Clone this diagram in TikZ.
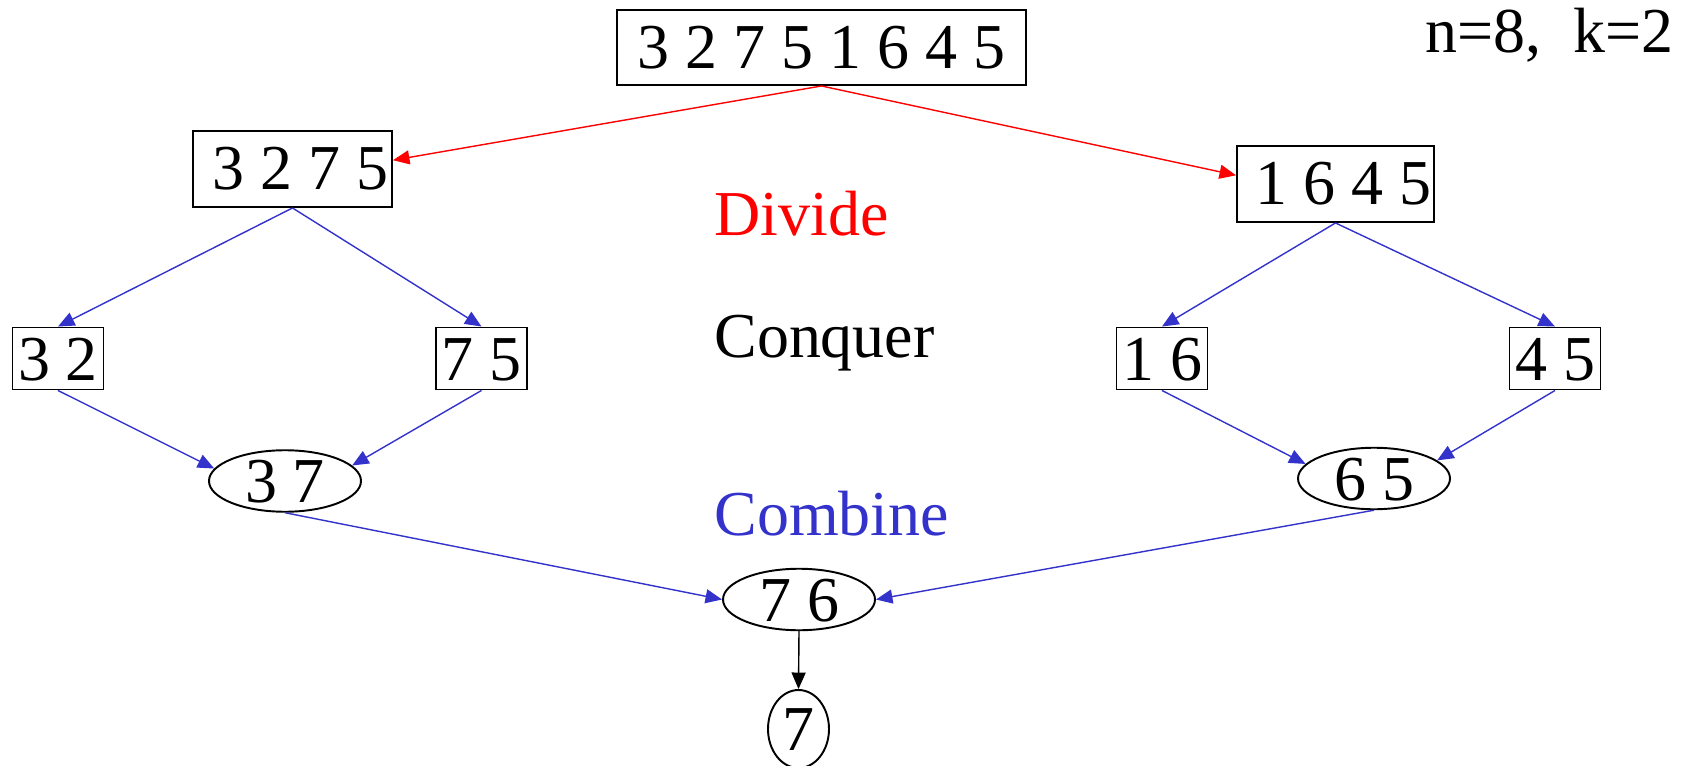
\documentclass[tikz,border=0pt]{standalone}
\usepackage{fontspec}
\setmainfont{Liberation Serif}
\usetikzlibrary{arrows.meta,shapes.geometric}
\definecolor{combblue}{RGB}{51,51,204}

\begin{document}
\begin{tikzpicture}[
  x=0.2mm, y=-0.2mm,
  font=\fontsize{36.4}{40}\selectfont,
  >={Triangle[length=3.3mm,width=2.8mm]},
  arr/.style     ={->,line width=0.8pt},
  divarr/.style  ={arr,red},
  conarr/.style  ={arr,combblue},
  box/.style     ={draw,line width=1.1pt,rectangle,inner sep=0pt,
                   minimum height=12.4mm},
  lowtext/.style ={text height=8.6mm,text depth=-2.8mm},
  small/.style   ={box,lowtext,minimum width=18.2mm},
  oval/.style    ={draw,line width=1.1pt,ellipse,inner sep=0pt,lowtext,
                   minimum width=30.4mm,minimum height=12.3mm},
  phase/.style   ={anchor=base west,inner sep=0pt},
]

\useasboundingbox (0,0) rectangle (1683,766);

%% ============================================================
%%  Input array and parameters
%% ============================================================
\node[box,minimum width=81.8mm,minimum height=15mm] (all) at (821.5,47.5)
      {3 2 7 5 1 6 4 5};
\node[phase] (params) at (1425,53) {n=8,\ \ k=2};

%% ============================================================
%%  Divide
%% ============================================================
\node[box,minimum width=39.8mm,minimum height=15.2mm] (left) at (292.5,169)
      {\ 3 2 7 5};
\node[box,minimum width=39.4mm,minimum height=15.2mm] (right) at (1335.5,184)
      {\ 1 6 4 5};
\draw[divarr] (all.south) -- (left.5);
\draw[divarr] (all.south) -- (right.175);

%% ============================================================
%%  Conquer: halves of each half
%% ============================================================
\node[small] (ll) at (58,358.5)    {3 2};
\node[small] (lr) at (481.5,358.5) {7 5};
\node[small] (rl) at (1162,358.5)  {1 6};
\node[small] (rr) at (1555,358.5)  {4 5};
\draw[conarr] (left.south)  -- (ll.north);
\draw[conarr] (left.south)  -- (lr.north);
\draw[conarr] (right.south) -- (rl.north);
\draw[conarr] (right.south) -- (rr.north);

%% ============================================================
%%  Combine: top k of each part
%% ============================================================
\node[oval] (lbest) at (285,481)    {3 7};
\node[oval] (rbest) at (1374,478.5) {6 5};
\draw[conarr] (ll.south) -- (lbest.170);
\draw[conarr] (lr.south) -- (lbest.13);
\draw[conarr] (rl.south) -- (rbest.168);
\draw[conarr] (rr.south) -- (rbest.16);

\node[oval] (best) at (799,599.5) {7 6};
\draw[conarr] (lbest.south) -- (best.west);
\draw[conarr] (rbest.south) -- (best.east);

\node[oval,minimum width=12.2mm,minimum height=15.6mm] (kth) at (798.5,729) {7};
\draw[arr] (best.south) -- (kth.north);

%% ============================================================
%%  Phase labels
%% ============================================================
\node[phase,red]      (divide)  at (714,235) {Divide};
\node[phase]          (conquer) at (714,357) {Conquer};
\node[phase,combblue] (combine) at (714,535) {Combine};

\end{tikzpicture}
\end{document}
